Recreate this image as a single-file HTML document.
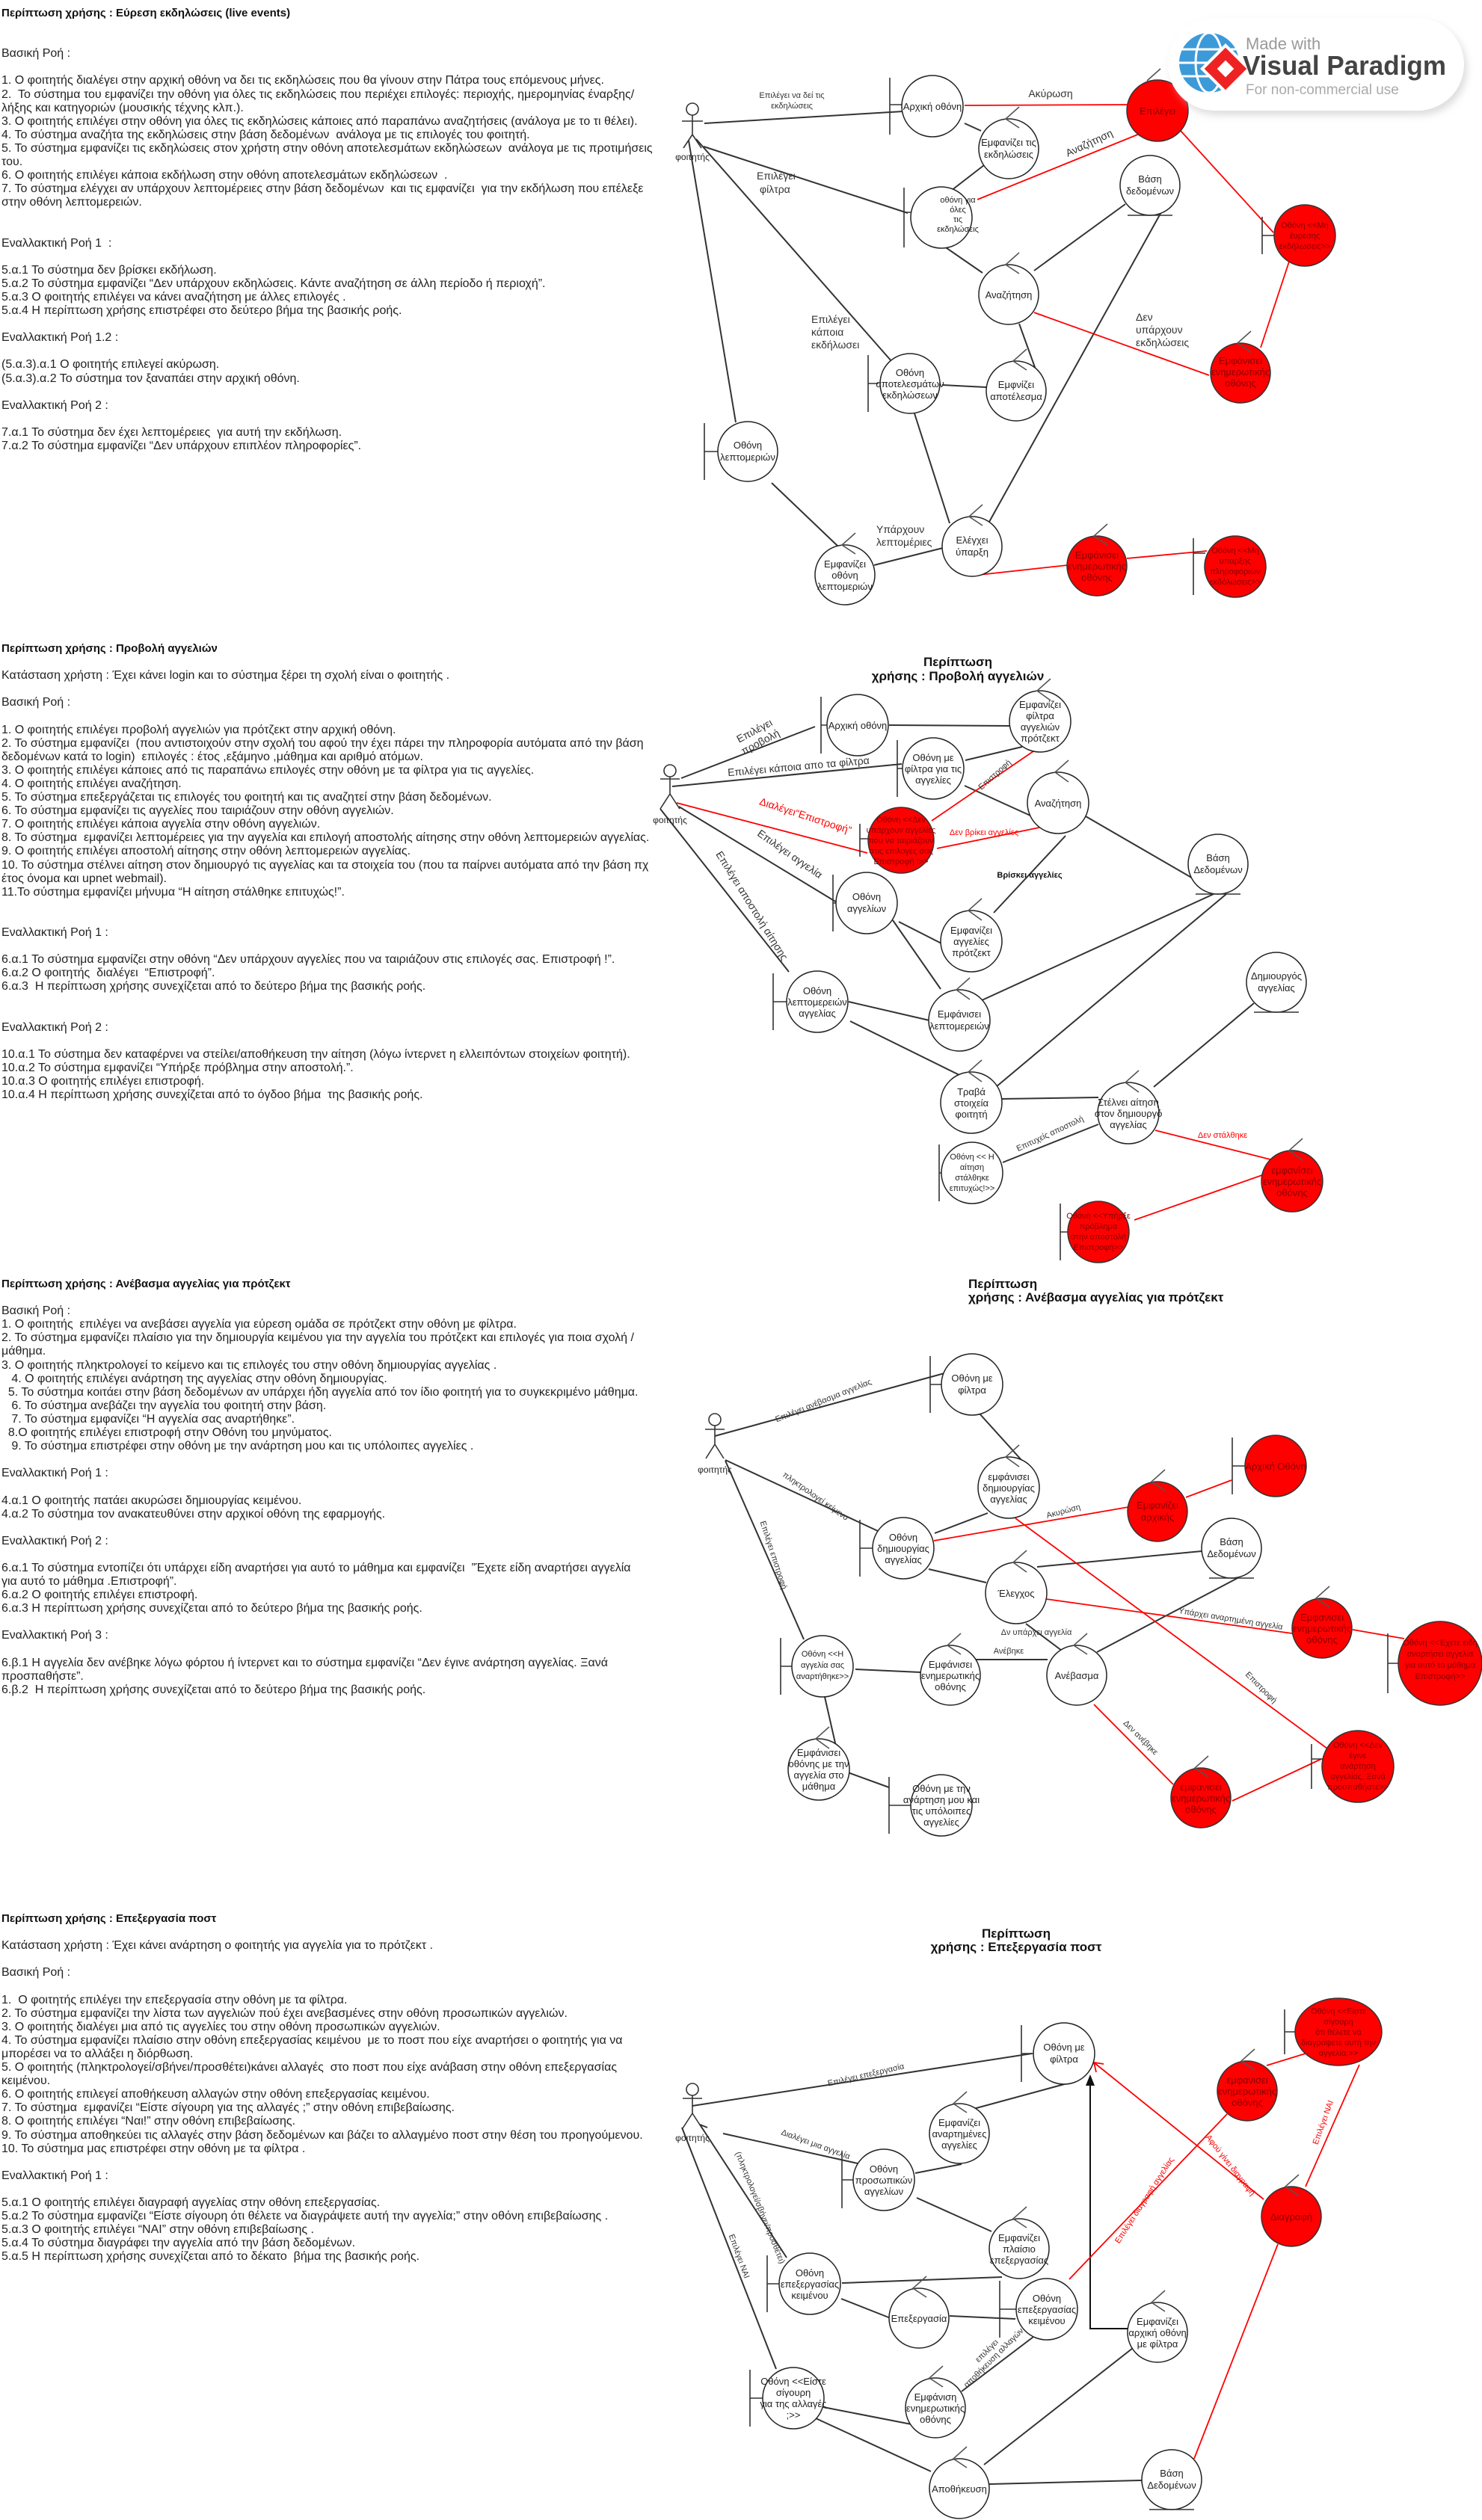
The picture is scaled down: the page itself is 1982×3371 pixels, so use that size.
<!DOCTYPE html>
<html><head><meta charset="utf-8">
<style>
html,body{margin:0;padding:0;background:#fff;}
body{width:1982px;height:3371px;position:relative;overflow:hidden;font-family:"Liberation Sans","DejaVu Sans",sans-serif;}
.tx{position:absolute;left:2px;white-space:pre;font-size:16px;line-height:18.1px;color:#222;}
.tx b{font-weight:bold;color:#111;font-size:15px;}
svg{position:absolute;left:0;top:0;}
.ln{stroke:#333;stroke-width:2;fill:none}
.rl{stroke:#f00;stroke-width:1.8;fill:none}
.n circle,.n ellipse{fill:#fff;stroke:#222;stroke-width:1.5}
.r circle,.r ellipse{fill:#f00;stroke:#333;stroke-width:1.5}
.n text,.r text{font-size:13px;text-anchor:middle;fill:#222}
.r text{fill:#8a0000}
.sm text{font-size:11px}
.sym{stroke:#333;stroke-width:1.6;fill:none}
.ctl{stroke:#555;stroke-width:1.6;fill:none}
.lb{font-size:11px;fill:#333;text-anchor:middle}
.lb14{font-size:14px;fill:#333;text-anchor:middle}
.red{fill:#f00}
.ttl{font-size:17px;font-weight:bold;fill:#111}
</style></head><body>

<div class="tx" style="top:9px"><b>Περίπτωση χρήσης : Εύρεση εκδηλώσεις (live events)</b>


Βασική Ροή :

1. Ο φοιτητής διαλέγει στην αρχική οθόνη να δει τις εκδηλώσεις που θα γίνουν στην Πάτρα τους επόμενους μήνες.
2.  Το σύστημα του εμφανίζει την οθόνη για όλες τις εκδηλώσεις που περιέχει επιλογές: περιοχής, ημερομηνίας έναρξης/
λήξης και κατηγοριών (μουσικής τέχνης κλπ.).
3. Ο φοιτητής επιλέγει στην οθόνη για όλες τις εκδηλώσεις κάποιες από παραπάνω αναζητήσεις (ανάλογα με το τι θέλει).
4. Το σύστημα αναζήτα της εκδηλώσεις στην βάση δεδομένων  ανάλογα με τις επιλογές του φοιτητή.
5. Το σύστημα εμφανίζει τις εκδηλώσεις στον χρήστη στην οθόνη αποτελεσμάτων εκδηλώσεων  ανάλογα με τις προτιμήσεις
του.
6. Ο φοιτητής επιλέγει κάποια εκδήλωση στην οθόνη αποτελεσμάτων εκδηλώσεων  .
7. Το σύστημα ελέγχει αν υπάρχουν λεπτομέρειες στην βάση δεδομένων  και τις εμφανίζει  για την εκδήλωση που επέλεξε
στην οθόνη λεπτομερειών.


Εναλλακτική Ροή 1  :

5.α.1 Το σύστημα δεν βρίσκει εκδήλωση.
5.α.2 Το σύστημα εμφανίζει “Δεν υπάρχουν εκδηλώσεις. Κάντε αναζήτηση σε άλλη περίοδο ή περιοχή”.
5.α.3 Ο φοιτητής επιλέγει να κάνει αναζήτηση με άλλες επιλογές .
5.α.4 Η περίπτωση χρήσης επιστρέφει στο δεύτερο βήμα της βασικής ροής.

Εναλλακτική Ροή 1.2 :

(5.α.3).α.1 Ο φοιτητής επιλεγεί ακύρωση.
(5.α.3).α.2 Το σύστημα τον ξαναπάει στην αρχική οθόνη.

Εναλλακτική Ροή 2 :

7.α.1 Το σύστημα δεν έχει λεπτομέρειες  για αυτή την εκδήλωση.
7.α.2 Το σύστημα εμφανίζει “Δεν υπάρχουν επιπλέον πληροφορίες”.</div>

<div class="tx" style="top:859px"><b>Περίπτωση χρήσης : Προβολή αγγελιών</b>

Κατάσταση χρήστη : Έχει κάνει login και το σύστημα ξέρει τη σχολή είναι ο φοιτητής .

Βασική Ροή :

1. Ο φοιτητής επιλέγει προβολή αγγελιών για πρότζεκτ στην αρχική οθόνη.
2. Το σύστημα εμφανίζει  (που αντιστοιχούν στην σχολή του αφού την έχει πάρει την πληροφορία αυτόματα από την βάση
δεδομένων κατά το login)  επιλογές : έτος ,εξάμηνο ,μάθημα και αριθμό ατόμων.
3. Ο φοιτητής επιλέγει κάποιες από τις παραπάνω επιλογές στην οθόνη με τα φίλτρα για τις αγγελίες.
4. Ο φοιτητής επιλέγει αναζήτηση.
5. Το σύστημα επεξεργάζεται τις επιλογές του φοιτητή και τις αναζητεί στην βάση δεδομένων.
6. Το σύστημα εμφανίζει τις αγγελίες που ταιριάζουν στην οθόνη αγγελιών.
7. Ο φοιτητής επιλέγει κάποια αγγελία στην οθόνη αγγελιών.
8. Το σύστημα  εμφανίζει λεπτομέρειες για την αγγελία και επιλογή αποστολής αίτησης στην οθόνη λεπτομερειών αγγελίας.
9. Ο φοιτητής επιλέγει αποστολή αίτησης στην οθόνη λεπτομερειών αγγελίας.
10. Το σύστημα στέλνει αίτηση στον δημιουργό τις αγγελίας και τα στοιχεία του (που τα παίρνει αυτόματα από την βάση πχ
έτος όνομα και upnet webmail).
11.Το σύστημα εμφανίζει μήνυμα “Η αίτηση στάλθηκε επιτυχώς!”.


Εναλλακτική Ροή 1 :

6.α.1 Το σύστημα εμφανίζει στην οθόνη “Δεν υπάρχουν αγγελίες που να ταιριάζουν στις επιλογές σας. Επιστροφή !”.
6.α.2 Ο φοιτητής  διαλέγει  “Επιστροφή”.
6.α.3  Η περίπτωση χρήσης συνεχίζεται από το δεύτερο βήμα της βασικής ροής.


Εναλλακτική Ροή 2 :

10.α.1 Το σύστημα δεν καταφέρνει να στείλει/αποθήκευση την αίτηση (λόγω ίντερνετ η ελλειπόντων στοιχείων φοιτητή).
10.α.2 Το σύστημα εμφανίζει “Υπήρξε πρόβλημα στην αποστολή.”.
10.α.3 Ο φοιτητής επιλέγει επιστροφή.
10.α.4 Η περίπτωση χρήσης συνεχίζεται από το όγδοο βήμα  της βασικής ροής.</div>

<div class="tx" style="top:1709px"><b>Περίπτωση χρήσης : Ανέβασμα αγγελίας για πρότζεκτ</b>

Βασική Ροή :
1. Ο φοιτητής  επιλέγει να ανεβάσει αγγελία για εύρεση ομάδα σε πρότζεκτ στην οθόνη με φίλτρα.
2. Το σύστημα εμφανίζει πλαίσιο για την δημιουργία κειμένου για την αγγελία του πρότζεκτ και επιλογές για ποια σχολή /
μάθημα.
3. Ο φοιτητής πληκτρολογεί το κείμενο και τις επιλογές του στην οθόνη δημιουργίας αγγελίας .
   4. Ο φοιτητής επιλέγει ανάρτηση της αγγελίας στην οθόνη δημιουργίας.
  5. Το σύστημα κοιτάει στην βάση δεδομένων αν υπάρχει ήδη αγγελία από τον ίδιο φοιτητή για το συγκεκριμένο μάθημα.
   6. Το σύστημα ανεβάζει την αγγελία του φοιτητή στην βάση.
   7. Το σύστημα εμφανίζει “Η αγγελία σας αναρτήθηκε”.
  8.Ο φοιτητής επιλέγει επιστροφή στην Οθόνη του μηνύματος.
   9. Το σύστημα επιστρέφει στην οθόνη με την ανάρτηση μου και τις υπόλοιπες αγγελίες .

Εναλλακτική Ροή 1 :

4.α.1 Ο φοιτητής πατάει ακυρώσει δημιουργίας κειμένου.
4.α.2 Το σύστημα τον ανακατευθύνει στην αρχικοί οθόνη της εφαρμογής.

Εναλλακτική Ροή 2 :

6.α.1 Το σύστημα εντοπίζει ότι υπάρχει είδη αναρτήσει για αυτό το μάθημα και εμφανίζει  ”Έχετε είδη αναρτήσει αγγελία
για αυτό το μάθημα .Επιστροφή”.
6.α.2 Ο φοιτητής επιλέγει επιστροφή.
6.α.3 Η περίπτωση χρήσης συνεχίζεται από το δεύτερο βήμα της βασικής ροής.

Εναλλακτική Ροή 3 :

6.β.1 Η αγγελία δεν ανέβηκε λόγω φόρτου ή ίντερνετ και το σύστημα εμφανίζει “Δεν έγινε ανάρτηση αγγελίας. Ξανά
προσπαθήστε”.
6.β.2  Η περίπτωση χρήσης συνεχίζεται από το δεύτερο βήμα της βασικής ροής.</div>

<div class="tx" style="top:2558px"><b>Περίπτωση χρήσης : Επεξεργασία ποστ</b>

Κατάσταση χρήστη : Έχει κάνει ανάρτηση ο φοιτητής για αγγελία για το πρότζεκτ .

Βασική Ροή :

1.  Ο φοιτητής επιλέγει την επεξεργασία στην οθόνη με τα φίλτρα.
2. Το σύστημα εμφανίζει την λίστα των αγγελιών πού έχει ανεβασμένες στην οθόνη προσωπικών αγγελιών.
3. Ο φοιτητής διαλέγει μια από τις αγγελίες του στην οθόνη προσωπικών αγγελιών.
4. Το σύστημα εμφανίζει πλαίσιο στην οθόνη επεξεργασίας κειμένου  με το ποστ που είχε αναρτήσει ο φοιτητής για να
μπορέσει να το αλλάξει η διόρθωση.
5. Ο φοιτητής (πληκτρολογεί/σβήνει/προσθέτει)κάνει αλλαγές  στο ποστ που είχε ανάβαση στην οθόνη επεξεργασίας
κειμένου.
6. Ο φοιτητής επιλεγεί αποθήκευση αλλαγών στην οθόνη επεξεργασίας κειμένου.
7. Το σύστημα  εμφανίζει “Είστε σίγουρη για της αλλαγές ;” στην οθόνη επιβεβαίωσης.
8. Ο φοιτητής επιλέγει “Ναι!” στην οθόνη επιβεβαίωσης.
9. Το σύστημα αποθηκεύει τις αλλαγές στην βάση δεδομένων και βάζει το αλλαγμένο ποστ στην θέση του προηγούμενου.
10. Το σύστημα μας επιστρέφει στην οθόνη με τα φίλτρα .

Εναλλακτική Ροή 1 :

5.α.1 Ο φοιτητής επιλέγει διαγραφή αγγελίας στην οθόνη επεξεργασίας.
5.α.2 Το σύστημα εμφανίζει “Είστε σίγουρη ότι θέλετε να διαγράψετε αυτή την αγγελία;” στην οθόνη επιβεβαίωσης .
5.α.3 Ο φοιτητής επιλέγει “ΝΑΙ” στην οθόνη επιβεβαίωσης .
5.α.4 Το σύστημα διαγράφει την αγγελία από την βάση δεδομένων.
5.α.5 Η περίπτωση χρήσης συνεχίζεται από το δέκατο  βήμα της βασικής ροής.</div>

<svg width="1982" height="3371" viewBox="0 0 1982 3371" xmlns="http://www.w3.org/2000/svg">
<defs>
<filter id="sh" x="-10%" y="-20%" width="120%" height="140%"><feGaussianBlur stdDeviation="5"/></filter>
</defs>

<!-- ================= DIAGRAM 1 ================= -->
<g class="ln">
<line x1="942" y1="165" x2="1208" y2="149"/>
<line x1="1290" y1="165" x2="1312" y2="175"/>
<line x1="1316" y1="221" x2="1272" y2="255"/>
<line x1="941" y1="196" x2="1214" y2="285"/>
<line x1="1259" y1="327" x2="1314" y2="365"/>
<line x1="1383" y1="362" x2="1505" y2="273"/>
<line x1="1363" y1="433" x2="1385" y2="494"/>
<line x1="1319" y1="518" x2="1260" y2="515"/>
<line x1="931" y1="186" x2="1193" y2="484"/>
<line x1="921" y1="188" x2="984" y2="565"/>
<line x1="1223" y1="553" x2="1270" y2="700"/>
<line x1="1554" y1="282" x2="1323" y2="698"/>
<line x1="1261" y1="733" x2="1169" y2="756"/>
<line x1="1032" y1="646" x2="1121" y2="731"/>
</g>
<g class="rl">
<line x1="1290" y1="141" x2="1507" y2="140"/>
<line x1="1307" y1="267" x2="1524" y2="179"/>
<line x1="1383" y1="418" x2="1617" y2="502"/>
<line x1="1579" y1="175" x2="1703" y2="311"/>
<line x1="1724" y1="350" x2="1686" y2="465"/>
<line x1="1309" y1="769" x2="1428" y2="756"/>
<line x1="1507" y1="747" x2="1614" y2="737"/>
</g>
<g class="sym"><circle cx="926" cy="146" r="8" fill="#fff"/><path d="M926 154 V180 M912 162 H940 M926 180 L914 198 M926 180 L938 198"/></g>
<text x="926" y="214" font-size="12" text-anchor="middle" fill="#222">φοιτητής</text>
<text class="lb" x="1059" y="131">Επιλέγει να δεί τις</text><text class="lb" x="1059" y="145">εκδηλώσεις</text>
<text class="lb14" x="1405" y="130">Ακύρωση</text>
<text class="lb14" x="1012" y="240" style="text-anchor:start">Επιλέγει</text><text class="lb14" x="1016" y="258" style="text-anchor:start">φίλτρα</text>
<text class="lb14" x="1457" y="196" transform="rotate(-25 1457 192)">Αναζήτηση</text>
<text class="lb14" x="1519" y="429" style="text-anchor:start">Δεν</text><text class="lb14" x="1519" y="446" style="text-anchor:start">υπάρχουν</text><text class="lb14" x="1519" y="463" style="text-anchor:start">εκδηλώσεις</text>
<text class="lb14" x="1085" y="432" style="text-anchor:start">Επιλέγει</text><text class="lb14" x="1085" y="449" style="text-anchor:start">κάποια</text><text class="lb14" x="1085" y="466" style="text-anchor:start">εκδήλωσει</text>
<text class="lb14" x="1172" y="713" style="text-anchor:start">Υπάρχουν</text><text class="lb14" x="1172" y="730" style="text-anchor:start">λεπτομέριες</text>
<g class="n" transform="translate(1247,142)"><path class="sym" d="M-57,-38 V38 M-57,-2 H-40"/><circle r="41"/><text y="5">Αρχική οθόνη</text></g>
<g class="n" transform="translate(1349,199)"><circle r="40"/><path class="ctl" d="M14,-56 L-4,-40 L14,-28"/><text y="-4">Εμφανίζει τις</text><text y="12">εκδηλώσεις</text></g>
<g class="n sm" transform="translate(1259,291)"><path class="sym" d="M-50,-40 V40 M-50,-7 H-33"/><circle r="41"/><text x="22" y="-20">οθόνη για</text><text x="22" y="-7">όλες</text><text x="22" y="6">τις</text><text x="22" y="19">εκδηλώσεις</text></g>
<g class="n" transform="translate(1349,394)"><circle r="40"/><path class="ctl" d="M14,-56 L-4,-40 L14,-28"/><text y="5">Αναζήτηση</text></g>
<g class="n" transform="translate(1538,248)"><circle r="40"/><path class="sym" d="M-30,40 H30"/><text y="-4">Βάση</text><text y="12">δεδομένων</text></g>
<g class="r" transform="translate(1548,148)"><circle r="41"/><path class="ctl" d="M4,-56 L-14,-40"/><text y="5">Επιλέγει</text></g>
<g class="r sm" transform="translate(1745,315)"><path class="sym" d="M-57,-25 V25 M-57,0 H-40"/><circle r="41"/><text y="-10">Οθόνη &lt;&lt;Μη</text><text y="4">έυρεσης</text><text y="18">εκδήλωσεις&gt;&gt;</text></g>
<g class="r" transform="translate(1659,499)"><circle r="40"/><path class="ctl" d="M14,-56 L-4,-40 L14,-28"/><text y="-12">Εμφάνισει</text><text y="3">ενημερωτικής</text><text y="18">οθόνης</text></g>
<g class="n" transform="translate(1217,513)"><path class="sym" d="M-56,-38 V38 M-56,0 H-42"/><circle r="40"/><text y="-10">Οθόνη</text><text y="5">αποτελεσμάτων</text><text y="20">εκδηλώσεων</text></g>
<g class="n" transform="translate(1359,523)"><circle r="40"/><path class="ctl" d="M14,-56 L-4,-40 L14,-28"/><text y="-4">Εμφνίζει</text><text y="12">αποτέλεσμα</text></g>
<g class="n" transform="translate(1000,604)"><path class="sym" d="M-58,-38 V38 M-58,0 H-40"/><circle r="40"/><text y="-4">Οθόνη</text><text y="12">λεπτομεριών</text></g>
<g class="n" transform="translate(1130,769)"><circle r="40"/><path class="ctl" d="M14,-56 L-4,-40 L14,-28"/><text y="-10">Εμφανίζει</text><text y="5">οθόνη</text><text y="20">λεπτομεριών</text></g>
<g class="n" transform="translate(1300,731)"><circle r="40"/><path class="ctl" d="M14,-56 L-4,-40 L14,-28"/><text y="-4">Ελέγχει</text><text y="12">ύπαρξη</text></g>
<g class="r" transform="translate(1467,757)"><circle r="40"/><path class="ctl" d="M14,-56 L-4,-40 L14,-28"/><text y="-10">Εμφάνισει</text><text y="5">ενημερωτικής</text><text y="20">οθόνης</text></g>
<g class="r sm" transform="translate(1652,758)"><path class="sym" d="M-56,-38 V38 M-56,-18 H-40"/><circle r="41"/><text y="-18">Οθόνη &lt;&lt;Μη</text><text y="-4">υπαρξης</text><text y="10">πληροφοριών</text><text y="24">εκδόλωσεις&gt;&gt;</text></g>

<!-- watermark -->
<rect x="1566" y="30" width="396" height="124" rx="62" fill="#bbb" filter="url(#sh)" opacity="0.5"/>
<rect x="1562" y="24" width="396" height="124" rx="62" fill="#fff"/>
<circle cx="1617" cy="84" r="40" fill="#3d9ad8"/>
<g stroke="#fff" stroke-width="3" fill="none"><ellipse cx="1617" cy="84" rx="18" ry="40"/><line x1="1577" y1="84" x2="1657" y2="84"/><line x1="1581" y1="66" x2="1653" y2="66"/><line x1="1581" y1="102" x2="1653" y2="102"/></g>
<rect x="1617" y="70" width="44" height="44" transform="rotate(45 1639 92)" fill="#e22" stroke="#fff" stroke-width="4"/>
<rect x="1631" y="84" width="16" height="16" transform="rotate(45 1639 92)" fill="#fff"/>
<text x="1666" y="66" font-size="22" fill="#999">Made with</text>
<text x="1662" y="100" font-size="36" font-weight="bold" fill="#444" textLength="272" lengthAdjust="spacingAndGlyphs">Visual Paradigm</text>
<text x="1666" y="126" font-size="19" fill="#aaa">For non-commercial use</text>

<!-- ================= DIAGRAM 2 ================= -->
<text class="ttl" x="1281" y="891" text-anchor="middle">Περίπτωση</text>
<text class="ttl" x="1281" y="910" text-anchor="middle">χρήσης : Προβολή αγγελιών</text>
<g class="ln">
<line x1="911" y1="1041" x2="1090" y2="972"/>
<line x1="899" y1="1052" x2="1206" y2="1022"/>
<line x1="908" y1="1079" x2="1119" y2="1207"/>
<line x1="883" y1="1082" x2="1055" y2="1300"/>
<line x1="1189" y1="970" x2="1351" y2="971"/>
<line x1="1291" y1="1017" x2="1367" y2="999"/>
<line x1="1290" y1="1051" x2="1378" y2="1091"/>
<line x1="1452" y1="1092" x2="1597" y2="1176"/>
<line x1="1425" y1="1118" x2="1329" y2="1221"/>
<line x1="1202" y1="1233" x2="1259" y2="1262"/>
<line x1="1194" y1="1231" x2="1258" y2="1323"/>
<line x1="1311" y1="1339" x2="1623" y2="1196"/>
<line x1="1135" y1="1340" x2="1243" y2="1365"/>
<line x1="1137" y1="1366" x2="1285" y2="1439"/>
<line x1="1332" y1="1454" x2="1640" y2="1196"/>
<line x1="1339" y1="1470" x2="1469" y2="1468"/>
<line x1="1543" y1="1454" x2="1677" y2="1342"/>
<line x1="1469" y1="1504" x2="1341" y2="1555"/>
</g>
<g class="rl">
<line x1="905" y1="1074" x2="1160" y2="1141"/>
<line x1="1382" y1="1005" x2="1246" y2="1098"/>
<line x1="1390" y1="1107" x2="1253" y2="1135"/>
<line x1="1545" y1="1512" x2="1699" y2="1551"/>
<line x1="1688" y1="1572" x2="1517" y2="1632"/>
</g>
<g class="sym"><circle cx="896" cy="1031" r="8" fill="#fff"/><path d="M896 1039 V1062 M883 1042 H909 M896 1062 L883 1082 M896 1062 L909 1082"/></g>
<text x="896" y="1101" font-size="12" text-anchor="middle" fill="#222">φοιτητής</text>
<g transform="rotate(-28 1014 987)"><text class="lb14" x="1014" y="981">Επιλέγει</text><text class="lb14" x="1014" y="998">προβολή</text></g>
<text class="lb14" x="1068" y="1030" transform="rotate(-5 1068 1026)">Επιλέγει κάποια απο τα φίλτρα</text>
<text class="lb14" x="1077" y="1096" transform="rotate(18 1077 1092)" style="fill:#f00">Διαλέγει“Επιστροφή”</text>
<text class="lb14" x="1056" y="1147" transform="rotate(35 1056 1143)">Επιλέγει αγγελία</text>
<text class="lb14" x="1005" y="1216" transform="rotate(58 1005 1212)">Επιλέγει αποστολή αίτησης</text>
<text class="lb" x="1330" y="1040" transform="rotate(-42 1330 1036)">Επιστροφή</text>
<text class="lb" x="1316" y="1117" style="fill:#f00">Δεν βρίκει αγγελίες</text>
<text class="lb" x="1377" y="1174" font-weight="bold" style="fill:#111">Βρίσκει αγγελίες</text>
<text class="lb" x="1404" y="1520" transform="rotate(-25 1404 1516)">Επιτυχείς αποστολή</text>
<text class="lb" x="1635" y="1522" style="fill:#f00">Δεν στάλθηκε</text>
<g class="n" transform="translate(1147,970)"><path class="sym" d="M-49,-38 V38 M-49,0 H-38"/><circle r="41"/><text y="5">Αρχική οθόνη</text></g>
<g class="n" transform="translate(1391,965)"><circle r="41"/><path class="ctl" d="M14,-57 L-4,-41 L14,-28"/><text y="-18">Εμφανίζει</text><text y="-3">φίλτρα</text><text y="12">αγγελιών</text><text y="27">πρότζεκτ</text></g>
<g class="n" transform="translate(1248,1028)"><path class="sym" d="M-48,-38 V38 M-48,0 H-38"/><circle r="41"/><text y="-10">Οθόνη με</text><text y="5">φίλτρα για τις</text><text y="20">αγγελίες</text></g>
<g class="n" transform="translate(1415,1074)"><circle r="41"/><path class="ctl" d="M14,-57 L-4,-41 L14,-28"/><text y="5">Αναζήτηση</text></g>
<g class="r sm" transform="translate(1205,1124)"><path class="sym" d="M-55,-22 V22 M-55,-2 H-40"/><circle r="44"/><text y="-24">Οθόνη &lt;&lt;Δεν</text><text y="-10">υπάρχουν αγγελίες</text><text y="4">που να ταιριάζουν</text><text y="18">στις επιλογές σας</text><text y="32">Επιστροφή !&gt;&gt;</text></g>
<g class="n" transform="translate(1629,1156)"><circle r="40"/><path class="sym" d="M-30,40 H30"/><text y="-4">Βάση</text><text y="12">Δεδομένων</text></g>
<g class="n" transform="translate(1159,1208)"><path class="sym" d="M-45,-38 V38 M-45,0 H-38"/><circle r="41"/><text y="-4">Οθόνη</text><text y="12">αγγελίων</text></g>
<g class="n" transform="translate(1299,1259)"><circle r="41"/><path class="ctl" d="M14,-57 L-4,-41 L14,-28"/><text y="-10">Εμφανίζει</text><text y="5">αγγελίες</text><text y="20">πρότζεκτ</text></g>
<g class="n" transform="translate(1093,1340)"><path class="sym" d="M-59,-38 V38 M-59,0 H-40"/><circle r="41"/><text y="-10">Οθόνη</text><text y="5">λεπτομερειών</text><text y="20">αγγελίας</text></g>
<g class="n" transform="translate(1283,1365)"><circle r="41"/><path class="ctl" d="M14,-57 L-4,-41 L14,-28"/><text y="-4">Εμφάνισει</text><text y="12">λεπτομερειών</text></g>
<g class="n" transform="translate(1707,1314)"><circle r="40"/><path class="sym" d="M-30,40 H30"/><text y="-4">Δημιουργός</text><text y="12">αγγελίας</text></g>
<g class="n" transform="translate(1299,1475)"><circle r="41"/><path class="ctl" d="M14,-57 L-4,-41 L14,-28"/><text y="-10">Τραβά</text><text y="5">στοιχεία</text><text y="20">φοιτητή</text></g>
<g class="n" transform="translate(1509,1489)"><circle r="41"/><path class="ctl" d="M14,-57 L-4,-41 L14,-28"/><text y="-10">Στέλνει αίτηση</text><text y="5">στον δημιουργό</text><text y="20">αγγελίας</text></g>
<g class="n sm" transform="translate(1300,1569)"><path class="sym" d="M-44,-38 V38 M-44,0 H-38"/><circle r="41"/><text y="-18">Οθόνη &lt;&lt; Η</text><text y="-4">αίτηση</text><text y="10">στάλθηκε</text><text y="24">επιτυχώς!&gt;&gt;</text></g>
<g class="r" transform="translate(1728,1580)"><circle r="41"/><path class="ctl" d="M14,-57 L-4,-41 L14,-28"/><text y="-10">εμφανίσει</text><text y="5">ενημερωτικής</text><text y="20">οθόνης</text></g>
<g class="r sm" transform="translate(1469,1648)"><path class="sym" d="M-51,-38 V38 M-51,0 H-41"/><circle r="41"/><text y="-18">Οθόνη &lt;&lt;Υπήρξε</text><text y="-4">πρόβλημα</text><text y="10">στην αποστολή</text><text y="24">Επιστροφή&gt;&gt;</text></g>

<!-- ================= DIAGRAM 3 ================= -->
<text class="ttl" x="1295" y="1723">Περίπτωση</text>
<text class="ttl" x="1295" y="1741">χρήσης : Ανέβασμα αγγελίας για πρότζεκτ</text>
<g class="ln">
<line x1="956" y1="1921" x2="1263" y2="1837"/>
<line x1="1310" y1="1891" x2="1375" y2="1963"/>
<line x1="970" y1="1953" x2="1174" y2="2048"/>
<line x1="970" y1="1954" x2="1075" y2="2193"/>
<line x1="1321" y1="2024" x2="1250" y2="2051"/>
<line x1="1242" y1="2099" x2="1319" y2="2117"/>
<line x1="1387" y1="2096" x2="1607" y2="2075"/>
<line x1="1372" y1="2172" x2="1420" y2="2208"/>
<line x1="1467" y1="2210" x2="1657" y2="2110"/>
<line x1="1401" y1="2220" x2="1305" y2="2220"/>
<line x1="1231" y1="2237" x2="1144" y2="2233"/>
<line x1="1103" y1="2270" x2="1118" y2="2336"/>
<line x1="1134" y1="2371" x2="1189" y2="2391"/>
</g>
<g class="rl">
<line x1="1249" y1="2061" x2="1509" y2="2016"/>
<line x1="1586" y1="2003" x2="1647" y2="1980"/>
<line x1="1399" y1="2139" x2="1728" y2="2185"/>
<line x1="1809" y1="2180" x2="1878" y2="2192"/>
<line x1="1463" y1="2280" x2="1569" y2="2387"/>
<line x1="1648" y1="2409" x2="1767" y2="2353"/>
<line x1="1775" y1="2339" x2="1358" y2="2031"/>
</g>
<g class="sym"><circle cx="956" cy="1899" r="8" fill="#fff"/><path d="M956 1907 V1932 M943 1912 H969 M956 1932 L944 1951 M956 1932 L968 1951"/></g>
<text x="956" y="1970" font-size="12" text-anchor="middle" fill="#222">φοιτητής</text>
<text class="lb" x="1101" y="1877" transform="rotate(-22 1101 1873)">Επιλέγει  ανέβασμα αγγελίας</text>
<text class="lb" x="1091" y="2005" transform="rotate(35 1091 2001)">πληκτρολογεί κείμενο</text>
<text class="lb" x="1035" y="2084" transform="rotate(72 1035 2080)">Επιλέγει επιστροφή</text>
<text class="lb" x="1422" y="2025" transform="rotate(-15 1422 2021)">Ακυρώση</text>
<text class="lb" x="1646" y="2169" transform="rotate(9 1646 2165)">Υπάρχει αναρτημένη αγγελία</text>
<text class="lb" x="1386" y="2187">Δν υπάρχει αγγελία</text>
<text class="lb" x="1349" y="2212">Ανέβηκε</text>
<text class="lb" x="1526" y="2328" transform="rotate(45 1526 2324)">Δεν ανέβηκε</text>
<text class="lb" x="1687" y="2261" transform="rotate(45 1687 2257)">Επιστροφή</text>
<g class="n" transform="translate(1300,1852)"><path class="sym" d="M-56,-38 V38 M-56,0 H-40"/><circle r="41"/><text y="-4">Οθόνη με</text><text y="12">φίλτρα</text></g>
<g class="n" transform="translate(1349,1990)"><circle r="41"/><path class="ctl" d="M14,-57 L-4,-41 L14,-28"/><text y="-10">εμφάνισει</text><text y="5">δημιουργίας</text><text y="20">αγγελίας</text></g>
<g class="r" transform="translate(1548,2022)"><circle r="40"/><path class="ctl" d="M10,-56 L-8,-40 L10,-28"/><text y="-4">Εμφανίζει</text><text y="12">αρχικής</text></g>
<g class="r" transform="translate(1706,1961)"><path class="sym" d="M-58,-38 V38 M-58,0 H-40"/><circle r="41"/><text y="5">Αρχική Οθόνη</text></g>
<g class="n" transform="translate(1208,2071)"><path class="sym" d="M-58,-38 V38 M-58,0 H-40"/><circle r="41"/><text y="-10">Οθόνη</text><text y="5">δημιουργίας</text><text y="20">αγγελίας</text></g>
<g class="n" transform="translate(1647,2071)"><circle r="40"/><path class="sym" d="M-30,40 H30"/><text y="-4">Βάση</text><text y="12">Δεδομένων</text></g>
<g class="n" transform="translate(1359,2131)"><circle r="41"/><path class="ctl" d="M14,-57 L-4,-41 L14,-28"/><text y="5">Έλεγχος</text></g>
<g class="r" transform="translate(1768,2178)"><circle r="40"/><path class="ctl" d="M10,-56 L-8,-40 L10,-28"/><text y="-10">Εμφανισει</text><text y="5">ενημερωτικής</text><text y="20">οθόνης</text></g>
<g class="r sm" transform="translate(1926,2225)"><path class="sym" d="M-70,-40 V40 M-70,0 H-55"/><circle r="56"/><text y="-24">Οθόνη &lt;&lt;Έχετε ειδη</text><text y="-9">αναρτήσει αγγελία</text><text y="6">για αυτό το μάθημα</text><text y="21">Επιστροφή&gt;&gt;</text></g>
<g class="n sm" transform="translate(1100,2229)"><path class="sym" d="M-56,-38 V38 M-56,0 H-40"/><circle r="41"/><text y="-13">Οθόνη &lt;&lt;Η</text><text y="2">αγγελία σας</text><text y="17">αναρτήθηκε&gt;&gt;</text></g>
<g class="n" transform="translate(1271,2241)"><circle r="40"/><path class="ctl" d="M14,-56 L-4,-40 L14,-28"/><text y="-10">Εμφάνισει</text><text y="5">ενημερωτικής</text><text y="20">οθόνης</text></g>
<g class="n" transform="translate(1440,2241)"><circle r="40"/><path class="ctl" d="M14,-56 L-4,-40 L14,-28"/><text y="5">Ανέβασμα</text></g>
<g class="n" transform="translate(1095,2367)"><circle r="41"/><path class="ctl" d="M14,-57 L-4,-41 L14,-28"/><text y="-18">Εμφάνισει</text><text y="-3">οθόνης με την</text><text y="12">αγγελία στο</text><text y="27">μάθημα</text></g>
<g class="n" transform="translate(1259,2415)"><path class="sym" d="M-70,-38 V38 M-70,0 H-41"/><circle r="41"/><text y="-18">Οθόνη με την</text><text y="-3">ανάρτηση μου και</text><text y="12">τις υπόλοιπες</text><text y="27">αγγελίες</text></g>
<g class="r" transform="translate(1606,2405)"><circle r="40"/><path class="ctl" d="M10,-56 L-8,-40 L10,-28"/><text y="-10">εμφανισει</text><text y="5">ενημερωτικής</text><text y="20">οθόνης</text></g>
<g class="r sm" transform="translate(1816,2363)"><path class="sym" d="M-62,-30 V30 M-62,-10 H-47"/><circle r="48"/><text y="-25">Οθόνη &lt;&lt;Δεν</text><text y="-11">έγινε</text><text y="3">ανάρτηση</text><text y="17">αγγελίας. Ξανά</text><text y="31">προσπαθήστε&gt;&gt;</text></g>

<!-- ================= DIAGRAM 4 ================= -->
<text class="ttl" x="1359" y="2592" text-anchor="middle">Περίπτωση</text>
<text class="ttl" x="1359" y="2610" text-anchor="middle">χρήσης : Επεξεργασία ποστ</text>
<g class="ln">
<line x1="926" y1="2817" x2="1380" y2="2747"/>
<line x1="1442" y1="2783" x2="1302" y2="2821"/>
<line x1="936" y1="2842" x2="946" y2="2846"/>
<line x1="967" y1="2854" x2="1147" y2="2894"/>
<line x1="1286" y1="2895" x2="1224" y2="2907"/>
<line x1="1226" y1="2940" x2="1326" y2="2985"/>
<line x1="1340" y1="3046" x2="1126" y2="3054"/>
<line x1="936" y1="2842" x2="1052" y2="3020"/>
<line x1="912" y1="2846" x2="1038" y2="3169"/>
<line x1="1125" y1="3075" x2="1191" y2="3101"/>
<line x1="1270" y1="3098" x2="1358" y2="3102"/>
<line x1="1382" y1="3126" x2="1286" y2="3199"/>
<line x1="1219" y1="3243" x2="1101" y2="3220"/>
<line x1="1091" y1="3235" x2="1245" y2="3306"/>
<line x1="1316" y1="3297" x2="1515" y2="3141"/>
<line x1="1323" y1="3323" x2="1527" y2="3318"/>
</g>
<path d="M1508 3115 H1458 V2785" stroke="#111" stroke-width="2" fill="none"/>
<path d="M1452 2790 L1458 2775 L1464 2790 Z" fill="#111"/>
<g class="rl">
<line x1="1430" y1="3049" x2="1641" y2="2828"/>
<line x1="1694" y1="2763" x2="1746" y2="2747"/>
<line x1="1818" y1="2762" x2="1746" y2="2925"/>
<line x1="1690" y1="2942" x2="1463" y2="2759"/>
<path d="M1466 2772 L1463 2759 L1476 2761"/>
<line x1="1709" y1="3002" x2="1597" y2="3289"/>
</g>
<g class="sym"><circle cx="926" cy="2795" r="8" fill="#fff"/><path d="M926 2803 V2827 M913 2807 H939 M926 2827 L913 2847 M926 2827 L939 2847"/></g>
<text x="926" y="2864" font-size="12" text-anchor="middle" fill="#222">φοιτητής</text>
<text class="lb" x="1158" y="2779" transform="rotate(-13 1158 2775)">Επιλέγει επεξεργασία</text>
<text class="lb" x="1091" y="2872" transform="rotate(20 1091 2868)">Διαλέγει μια αγγελία</text>
<text class="lb" x="1017" y="2957" transform="rotate(68 1017 2953)" font-size="10">(πληκτρολογεί/σβήνει/προσθέτει)</text>
<text class="lb" x="989" y="3022" transform="rotate(70 989 3018)">Επιλέγει ΝΑΙ</text>
<g transform="rotate(-45 1325 3150)"><text class="lb" x="1325" y="3146" font-size="10">επιλέγει</text><text class="lb" x="1325" y="3159" font-size="10">αποθήκευση αλλαγών</text></g>
<text class="lb" x="1530" y="2947" transform="rotate(-57 1530 2943)" style="fill:#f00">Επιλέγει διαγραφή αγγελίας</text>
<text class="lb" x="1646" y="2900" transform="rotate(52 1646 2896)" style="fill:#f00">Αφού γίνει διαγραφή</text>
<text class="lb" x="1769" y="2843" transform="rotate(-70 1769 2839)" style="fill:#f00">Επιλέγει ΝΑΙ</text>
<g class="n" transform="translate(1423,2747)"><path class="sym" d="M-57,-38 V38 M-57,0 H-41"/><circle r="41"/><text y="-4">Οθόνη με</text><text y="12">φίλτρα</text></g>
<g class="n" transform="translate(1283,2854)"><circle r="40"/><path class="ctl" d="M10,-56 L-8,-40 L10,-28"/><text y="-10">Εμφανίζει</text><text y="5">αναρτημένες</text><text y="20">αγγελίες</text></g>
<g class="n" transform="translate(1182,2916)"><path class="sym" d="M-56,-38 V38 M-56,0 H-40"/><circle r="41"/><text y="-10">Οθόνη</text><text y="5">προσωπικών</text><text y="20">αγγελίων</text></g>
<g class="n" transform="translate(1363,3008)"><circle r="40"/><path class="ctl" d="M10,-56 L-8,-40 L10,-28"/><text y="-10">Εμφανίζει</text><text y="5">πλαίσιο</text><text y="20">επεξεργασίας</text></g>
<g class="n" transform="translate(1083,3055)"><path class="sym" d="M-57,-38 V38 M-57,0 H-40"/><circle r="41"/><text y="-10">Οθόνη</text><text y="5">επεξεργασίας</text><text y="20">κειμένου</text></g>
<g class="n" transform="translate(1229,3101)"><circle r="40"/><path class="ctl" d="M10,-56 L-8,-40 L10,-28"/><text y="5">Επεξεργασία</text></g>
<g class="n" transform="translate(1400,3089)"><path class="sym" d="M-63,-38 V38 M-63,0 H-41"/><circle r="41"/><text y="-10">Οθόνη</text><text y="5">επεξεργασίας</text><text y="20">κειμένου</text></g>
<g class="n" transform="translate(1548,3120)"><circle r="40"/><path class="ctl" d="M10,-56 L-8,-40 L10,-28"/><text y="-10">Εμφανίζει</text><text y="5">αρχική οθόνη</text><text y="20">με φίλτρα</text></g>
<g class="n" transform="translate(1061,3208)"><path class="sym" d="M-58,-38 V38 M-58,0 H-40"/><circle r="41"/><text y="-18">Οθόνη &lt;&lt;Είστε</text><text y="-3">σίγουρη</text><text y="12">για της αλλαγές</text><text y="27">;&gt;&gt;</text></g>
<g class="n" transform="translate(1251,3221)"><circle r="40"/><path class="ctl" d="M10,-56 L-8,-40 L10,-28"/><text y="-10">Εμφάνιση</text><text y="5">ενημερωτικής</text><text y="20">οθόνης</text></g>
<g class="n" transform="translate(1283,3329)"><circle r="40"/><path class="ctl" d="M10,-56 L-8,-40 L10,-28"/><text y="5">Αποθήκευση</text></g>
<g class="n" transform="translate(1567,3317)"><circle r="40"/><path class="sym" d="M-30,40 H30"/><text y="-4">Βάση</text><text y="12">Δεδομένων</text></g>
<g class="r sm" transform="translate(1790,2718)"><path class="sym" d="M-72,-30 V30 M-72,0 H-58"/><ellipse rx="58" ry="45"/><text y="-24">Οθόνη &lt;&lt;Είστε</text><text y="-10">σίγουρη</text><text y="4">ότι θέλετε να</text><text y="18">διαγράψετε αυτή την</text><text y="32">αγγελία;&gt;&gt;</text></g>
<g class="r" transform="translate(1668,2797)"><circle r="40"/><path class="ctl" d="M10,-56 L-8,-40 L10,-28"/><text y="-10">εμφανισει</text><text y="5">ενημερωτικής</text><text y="20">οθόνης</text></g>
<g class="r" transform="translate(1727,2965)"><circle r="40"/><path class="ctl" d="M10,-56 L-8,-40 L10,-28"/><text y="5">Διαγραφή</text></g>
</svg>
</body></html>
